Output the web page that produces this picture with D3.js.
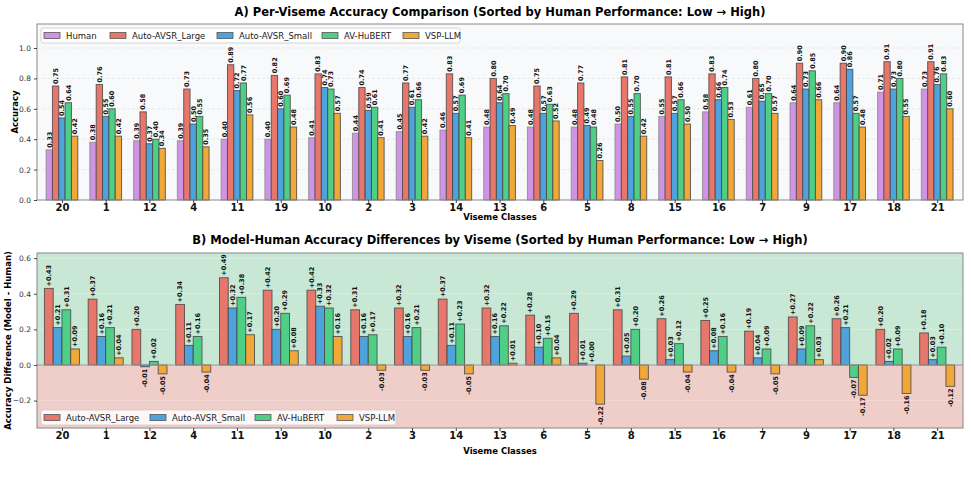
<!DOCTYPE html>
<html>
<head>
<meta charset="utf-8">
<script src="https://cdn.jsdelivr.net/npm/d3@7"></script>
<style>
  body { margin: 0; background: #fff; }
  text { font-family: "DejaVu Sans", sans-serif; }
</style>
</head>
<body>
<div class="chart"></div>
<script>
// Data
//= ================================
var visemes = ["20", "1", "12", "4", "11", "19", "10", "2", "3", "14", "13", "6", "5", "8", "15", "16", "7", "9", "17", "18", "21"];

var human = [0.33, 0.38, 0.39, 0.39, 0.40, 0.40, 0.41, 0.44, 0.45, 0.46, 0.48, 0.48, 0.48, 0.50, 0.55, 0.58, 0.61, 0.64, 0.64, 0.71, 0.73];
var avsrLarge = [0.75, 0.76, 0.58, 0.73, 0.89, 0.82, 0.83, 0.74, 0.77, 0.83, 0.80, 0.75, 0.77, 0.81, 0.81, 0.83, 0.80, 0.90, 0.90, 0.91, 0.91];
var avsrSmall = [0.54, 0.55, 0.37, 0.50, 0.72, 0.60, 0.74, 0.59, 0.61, 0.57, 0.64, 0.57, 0.49, 0.55, 0.57, 0.66, 0.65, 0.73, 0.86, 0.73, 0.76];
var avHubert = [0.64, 0.60, 0.40, 0.55, 0.77, 0.69, 0.73, 0.61, 0.66, 0.69, 0.70, 0.63, 0.48, 0.70, 0.66, 0.74, 0.70, 0.85, 0.57, 0.80, 0.83];
var vspLlm = [0.42, 0.42, 0.34, 0.35, 0.56, 0.48, 0.57, 0.41, 0.42, 0.41, 0.49, 0.52, 0.26, 0.42, 0.50, 0.53, 0.57, 0.66, 0.48, 0.55, 0.60];

// differences as printed on panel B
var diffLarge = [0.43, 0.37, 0.20, 0.34, 0.49, 0.42, 0.42, 0.31, 0.32, 0.37, 0.32, 0.28, 0.29, 0.31, 0.26, 0.25, 0.19, 0.27, 0.26, 0.20, 0.18];
var diffSmall = [0.21, 0.16, -0.01, 0.11, 0.32, 0.20, 0.33, 0.16, 0.16, 0.11, 0.16, 0.10, 0.01, 0.05, 0.03, 0.08, 0.04, 0.09, 0.21, 0.02, 0.03];
var diffHubert = [0.31, 0.21, 0.02, 0.16, 0.38, 0.29, 0.32, 0.17, 0.21, 0.23, 0.22, 0.15, 0.00, 0.20, 0.12, 0.16, 0.09, 0.22, -0.07, 0.09, 0.10];
var diffVsp = [0.09, 0.04, -0.05, -0.04, 0.17, 0.08, 0.16, -0.03, -0.03, -0.05, 0.01, 0.04, -0.22, -0.08, -0.04, -0.04, -0.05, 0.03, -0.17, -0.16, -0.12];

var accTicks = [0, 0.2, 0.4, 0.6, 0.8, 1.0];
var diffTicks = [-0.2, 0, 0.2, 0.4, 0.6];

var seriesNames = ["Human", "Auto-AVSR_Large", "Auto-AVSR_Small", "AV-HuBERT", "VSP-LLM"];
var seriesColors = ["#cf94e3", "#e8776b", "#4ea3dd", "#4fcf85", "#f2a838"];

// Step 0: Set up the page
//= ================================
var svgWidth = 971;
var svgHeight = 483;

var svg = d3
  .select(".chart")
  .append("svg")
  .attr("width", svgWidth)
  .attr("height", svgHeight);

var plotLeft = 37;
var plotRight = 963;

// index scale shared by both panels
var xScale = d3.scaleLinear().domain([-0.57, 20.59]).range([plotLeft, plotRight]);

function drawFrame(g, top, bottom) {
  g.append("rect")
    .attr("x", plotLeft)
    .attr("y", top)
    .attr("width", plotRight - plotLeft)
    .attr("height", bottom - top)
    .attr("fill", "none")
    .attr("stroke", "#888")
    .attr("stroke-width", 1);
}

function drawXAxis(g, bottom, labelGap) {
  var axis = d3.axisBottom(xScale)
    .tickValues(d3.range(visemes.length))
    .tickFormat(function(i) { return visemes[i]; })
    .tickSize(3);
  var ax = g.append("g")
    .attr("transform", "translate(0," + bottom + ")")
    .call(axis);
  ax.select(".domain").remove();
  ax.selectAll("line").attr("stroke", "#444");
  ax.selectAll("text")
    .attr("fill", "#111")
    .attr("y", 3.5)
    .attr("dy", "0.71em")
    .style("font-size", "10px")
    .style("font-weight", "bold");
  g.append("text")
    .attr("x", (plotLeft + plotRight) / 2)
    .attr("y", bottom + labelGap)
    .attr("text-anchor", "middle")
    .style("font-size", "8.5px")
    .style("font-weight", "bold")
    .text("Viseme Classes");
}

function drawYAxis(g, yScale, ticks, fmt) {
  var axis = d3.axisLeft(yScale).tickValues(ticks).tickFormat(fmt).tickSize(3);
  var ax = g.append("g")
    .attr("transform", "translate(" + plotLeft + ",0)")
    .call(axis);
  ax.select(".domain").remove();
  ax.selectAll("line").attr("stroke", "#444");
  ax.selectAll("text").attr("fill", "#333").style("font-size", "7.5px");
}

function drawLegend(g, x, y, w, entries) {
  var lg = g.append("g").attr("transform", "translate(" + x + "," + y + ")");
  lg.append("rect")
    .attr("width", w)
    .attr("height", 15)
    .attr("rx", 2)
    .attr("fill", "#fff")
    .attr("fill-opacity", 0.85)
    .attr("stroke", "#ccc")
    .attr("stroke-width", 0.8);
  entries.forEach(function(e) {
    lg.append("rect")
      .attr("x", e.x)
      .attr("y", 4.5)
      .attr("width", 16)
      .attr("height", 6)
      .attr("fill", e.color)
      .attr("stroke", "#555")
      .attr("stroke-width", 0.8);
    lg.append("text")
      .attr("x", e.x + 22)
      .attr("y", 10.5)
      .style("font-size", "8.5px")
      .attr("fill", "#222")
      .text(e.name);
  });
}

// Step 1: Panel A - per-viseme accuracy
//= ================================
var topA = 24;
var bottomA = 200;
var yA = d3.scaleLinear().domain([0, 1.158]).range([bottomA, topA]);
var gA = svg.append("g");

gA.append("text")
  .attr("x", 500)
  .attr("y", 16)
  .attr("text-anchor", "middle")
  .style("font-size", "11.5px")
  .style("font-weight", "bold")
  .text("A) Per-Viseme Accuracy Comparison (Sorted by Human Performance: Low \u2192 High)");

gA.append("rect")
  .attr("x", plotLeft)
  .attr("y", topA)
  .attr("width", plotRight - plotLeft)
  .attr("height", bottomA - topA)
  .attr("fill", "#f8f9fa");

// dashed grid
gA.selectAll(".grid")
  .data(accTicks.slice(1))
  .enter()
  .append("line")
  .attr("x1", plotLeft)
  .attr("x2", plotRight)
  .attr("y1", function(d) { return yA(d); })
  .attr("y2", function(d) { return yA(d); })
  .attr("stroke", "#ddd")
  .attr("stroke-width", 0.6)
  .attr("stroke-dasharray", "3,2");

var seriesA = [human, avsrLarge, avsrSmall, avHubert, vspLlm];
var barWA = 0.145;

seriesA.forEach(function(values, s) {
  var offset = (s - 2) * barWA;
  var grp = gA.append("g");
  grp.selectAll("rect")
    .data(values)
    .enter()
    .append("rect")
    .attr("x", function(d, i) { return xScale(i + offset - barWA / 2); })
    .attr("y", function(d) { return yA(d); })
    .attr("width", xScale(barWA) - xScale(0))
    .attr("height", function(d) { return yA(0) - yA(d); })
    .attr("fill", seriesColors[s])
    .attr("stroke", s === 0 ? "#888" : "#444")
    .attr("stroke-opacity", 0.8)
    .attr("stroke-width", 1);

  grp.selectAll("text")
    .data(values)
    .enter()
    .append("text")
    .attr("transform", function(d, i) {
      return "translate(" + (xScale(i + offset) + 2.3) + "," + (yA(d) - 2) + ") rotate(-90)";
    })
    .style("font-size", "6.5px")
    .style("font-weight", "bold")
    .attr("fill", "#111")
    .text(function(d) { return d.toFixed(2); });
});

drawFrame(gA, topA, bottomA);
drawYAxis(gA, yA, accTicks, d3.format(".1f"));
drawXAxis(gA, bottomA, 20);

gA.append("text")
  .attr("transform", "translate(18," + ((topA + bottomA) / 2) + ") rotate(-90)")
  .attr("text-anchor", "middle")
  .style("font-size", "8.5px")
  .style("font-weight", "bold")
  .text("Accuracy");

drawLegend(gA, 41, 28, 419, [
  { name: seriesNames[0], color: seriesColors[0], x: 3 },
  { name: seriesNames[1], color: seriesColors[1], x: 69 },
  { name: seriesNames[2], color: seriesColors[2], x: 176 },
  { name: seriesNames[3], color: seriesColors[3], x: 281 },
  { name: seriesNames[4], color: seriesColors[4], x: 362 }
]);

// Step 2: Panel B - model minus human
//= ================================
var topB = 253;
var bottomB = 428;
var yB = d3.scaleLinear().domain([-0.354, 0.629]).range([bottomB, topB]);
var gB = svg.append("g");

gB.append("text")
  .attr("x", 500)
  .attr("y", 244)
  .attr("text-anchor", "middle")
  .style("font-size", "11.5px")
  .style("font-weight", "bold")
  .text("B) Model-Human Accuracy Differences by Viseme (Sorted by Human Performance: Low \u2192 High)");

// green above zero, red below
gB.append("rect")
  .attr("x", plotLeft)
  .attr("y", topB)
  .attr("width", plotRight - plotLeft)
  .attr("height", yB(0) - topB)
  .attr("fill", "#c8e8d5");
gB.append("rect")
  .attr("x", plotLeft)
  .attr("y", yB(0))
  .attr("width", plotRight - plotLeft)
  .attr("height", bottomB - yB(0))
  .attr("fill", "#efcdc9");

gB.selectAll(".grid")
  .data(diffTicks.filter(function(t) { return t !== 0; }))
  .enter()
  .append("line")
  .attr("x1", plotLeft)
  .attr("x2", plotRight)
  .attr("y1", function(d) { return yB(d); })
  .attr("y2", function(d) { return yB(d); })
  .attr("stroke", "#fff")
  .attr("stroke-opacity", 0.35)
  .attr("stroke-width", 0.8);

var seriesB = [diffLarge, diffSmall, diffHubert, diffVsp];
var barWB = 0.2;

seriesB.forEach(function(values, s) {
  var offset = (s - 1.5) * barWB;
  var color = seriesColors[s + 1];
  var grp = gB.append("g");
  grp.selectAll("rect")
    .data(values)
    .enter()
    .append("rect")
    .attr("x", function(d, i) { return xScale(i + offset - barWB / 2); })
    .attr("y", function(d) { return yB(Math.max(d, 0)); })
    .attr("width", xScale(barWB) - xScale(0))
    .attr("height", function(d) { return Math.abs(yB(d) - yB(0)); })
    .attr("fill", color)
    .attr("stroke", "#444")
    .attr("stroke-opacity", 0.8)
    .attr("stroke-width", 1);

  grp.selectAll("text")
    .data(values)
    .enter()
    .append("text")
    .attr("transform", function(d, i) {
      var y = d >= 0 ? yB(d) - 2 : yB(d) + 2;
      return "translate(" + (xScale(i + offset) + 2.3) + "," + y + ") rotate(-90)";
    })
    .attr("text-anchor", function(d) { return d >= 0 ? "start" : "end"; })
    .style("font-size", "6.5px")
    .style("font-weight", "bold")
    .attr("fill", "#111")
    .text(function(d) { return (d >= 0 ? "+" : "") + d.toFixed(2); });
});

// zero line
gB.append("line")
  .attr("x1", plotLeft)
  .attr("x2", plotRight)
  .attr("y1", yB(0))
  .attr("y2", yB(0))
  .attr("stroke", "#999")
  .attr("stroke-width", 1.2);

drawFrame(gB, topB, bottomB);
drawYAxis(gB, yB, diffTicks, function(d) { return d3.format(".1f")(d).replace("-", "\u2212"); });
drawXAxis(gB, bottomB, 26);

gB.append("text")
  .attr("transform", "translate(11," + ((topB + bottomB) / 2) + ") rotate(-90)")
  .attr("text-anchor", "middle")
  .style("font-size", "8.5px")
  .style("font-weight", "bold")
  .text("Accuracy Difference (Model - Human)");

drawLegend(gB, 41, 410, 355, [
  { name: seriesNames[1], color: seriesColors[1], x: 3 },
  { name: seriesNames[2], color: seriesColors[2], x: 109 },
  { name: seriesNames[3], color: seriesColors[3], x: 214 },
  { name: seriesNames[4], color: seriesColors[4], x: 296 }
]);
</script>
</body>
</html>
